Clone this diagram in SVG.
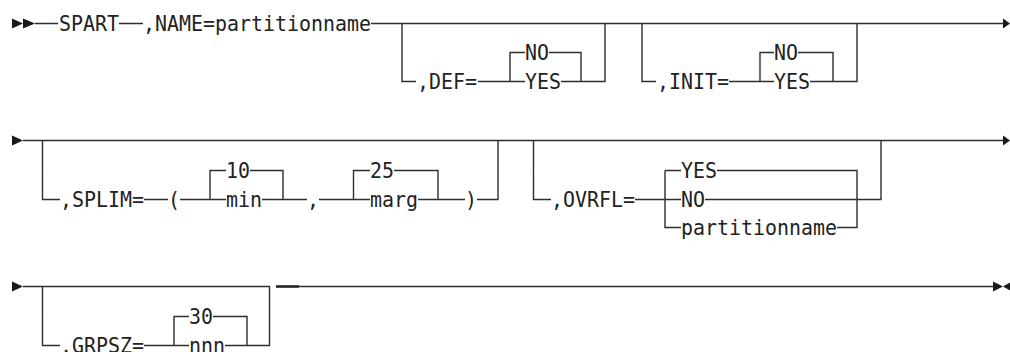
<svg xmlns="http://www.w3.org/2000/svg" width="1010" height="352" viewBox="0 0 1010 352">
<style>
.l{stroke:#2e2e2e;stroke-width:1.4;fill:none}
.k{stroke:#222;stroke-width:2.6;fill:none}
.a{fill:#1a1a1a;stroke:none}
.t{font-family:"DejaVu Sans Mono","Liberation Mono",monospace;font-size:21.5px;fill:#222}
</style>
<rect width="1010" height="352" fill="#fff"/>
<g id="connectors">
<polygon class="a" points="12,18.5 23,23.5 12,28.5"/>
<polygon class="a" points="23,18.5 35,23.5 23,28.5"/>
<path class="l" d="M35 23.5H58M119 23.5H143M371 23.5H1003"/>
<path class="l" d="M402 23.5V81.5H416M478 81.5H525M510 81.5V52.5H525M549 52.5H581V81.5M561 81.5H605V23.5"/>
<path class="l" d="M642 23.5V81.5H656M729 81.5H774M760 81.5V52.5H774M798 52.5H833V81.5M810 81.5H857V23.5"/>
<polygon class="a" points="1003,18.5 1010,23.5 1003,28.5"/>
<polygon class="a" points="12,135.5 23,140.5 12,145.5"/>
<path class="l" d="M23 140.5H1003"/>
<path class="l" d="M42.5 140.5V199.5H60M144 199.5H168M180 199.5H226M210 199.5V170.5H226M250 170.5H283V199.5M262 199.5H307M319 199.5H370M353.5 199.5V170.5H370M394 170.5H438V199.5M418 199.5H465M477 199.5H498V140.5"/>
<path class="l" d="M533.5 140.5V199.5H551M635 199.5H681M665 170.5V227.5H681M665 170.5H681M717 170.5H857V227.5H837M705 199.5H881V140.5"/>
<polygon class="a" points="1003,135.5 1010,140.5 1003,145.5"/>
<polygon class="a" points="12,281.5 23,286.5 12,291.5"/>
<path class="l" d="M23 286.5H269.5V345.5H247M42.5 286.5V345.5H60M144 345.5H189M174 345.5V316.5H189M213 316.5H247V345.5M225 345.5H247"/>
<path class="k" d="M276 286.5H299"/>
<path class="l" d="M299 286.5H993"/>
<polygon class="a" points="993,281.5 1003,286.5 993,291.5"/>
<polygon class="a" points="1010,282.5 1003,286.5 1010,290.5"/>
</g>
<g id="n-spart"><text class="t" x="59" y="31.3" textLength="60" lengthAdjust="spacingAndGlyphs">SPART</text></g>
<g id="n-name"><text class="t" x="143" y="31.3" textLength="228" lengthAdjust="spacingAndGlyphs">,NAME=partitionname</text></g>
<g id="n-def"><text class="t" x="417" y="89.3" textLength="60" lengthAdjust="spacingAndGlyphs">,DEF=</text></g>
<g id="n-def-no"><text class="t" x="525" y="60.3" textLength="24" lengthAdjust="spacingAndGlyphs">NO</text></g>
<g id="n-def-yes"><text class="t" x="525" y="89.3" textLength="36" lengthAdjust="spacingAndGlyphs">YES</text></g>
<g id="n-init"><text class="t" x="657" y="89.3" textLength="72" lengthAdjust="spacingAndGlyphs">,INIT=</text></g>
<g id="n-init-no"><text class="t" x="774" y="60.3" textLength="24" lengthAdjust="spacingAndGlyphs">NO</text></g>
<g id="n-init-yes"><text class="t" x="774" y="89.3" textLength="36" lengthAdjust="spacingAndGlyphs">YES</text></g>
<g id="n-splim"><text class="t" x="60" y="207.3" textLength="84" lengthAdjust="spacingAndGlyphs">,SPLIM=</text></g>
<g id="n-lparen"><text class="t" x="168" y="207.3" textLength="12" lengthAdjust="spacingAndGlyphs">(</text></g>
<g id="n-10"><text class="t" x="226" y="178.3" textLength="24" lengthAdjust="spacingAndGlyphs">10</text></g>
<g id="n-min"><text class="t" x="226" y="207.3" textLength="36" lengthAdjust="spacingAndGlyphs">min</text></g>
<g id="n-comma"><text class="t" x="307" y="207.3" textLength="12" lengthAdjust="spacingAndGlyphs">,</text></g>
<g id="n-25"><text class="t" x="370" y="178.3" textLength="24" lengthAdjust="spacingAndGlyphs">25</text></g>
<g id="n-marg"><text class="t" x="370" y="207.3" textLength="48" lengthAdjust="spacingAndGlyphs">marg</text></g>
<g id="n-rparen"><text class="t" x="465" y="207.3" textLength="12" lengthAdjust="spacingAndGlyphs">)</text></g>
<g id="n-ovrfl"><text class="t" x="551" y="207.3" textLength="84" lengthAdjust="spacingAndGlyphs">,OVRFL=</text></g>
<g id="n-ovrfl-yes"><text class="t" x="681" y="178.3" textLength="36" lengthAdjust="spacingAndGlyphs">YES</text></g>
<g id="n-ovrfl-no"><text class="t" x="681" y="207.3" textLength="24" lengthAdjust="spacingAndGlyphs">NO</text></g>
<g id="n-ovrfl-pn"><text class="t" x="681" y="235.3" textLength="156" lengthAdjust="spacingAndGlyphs">partitionname</text></g>
<g id="n-grpsz"><text class="t" x="60" y="353.3" textLength="84" lengthAdjust="spacingAndGlyphs">,GRPSZ=</text></g>
<g id="n-30"><text class="t" x="189" y="324.3" textLength="24" lengthAdjust="spacingAndGlyphs">30</text></g>
<g id="n-nnn"><text class="t" x="189" y="353.3" textLength="36" lengthAdjust="spacingAndGlyphs">nnn</text></g>
</svg>
